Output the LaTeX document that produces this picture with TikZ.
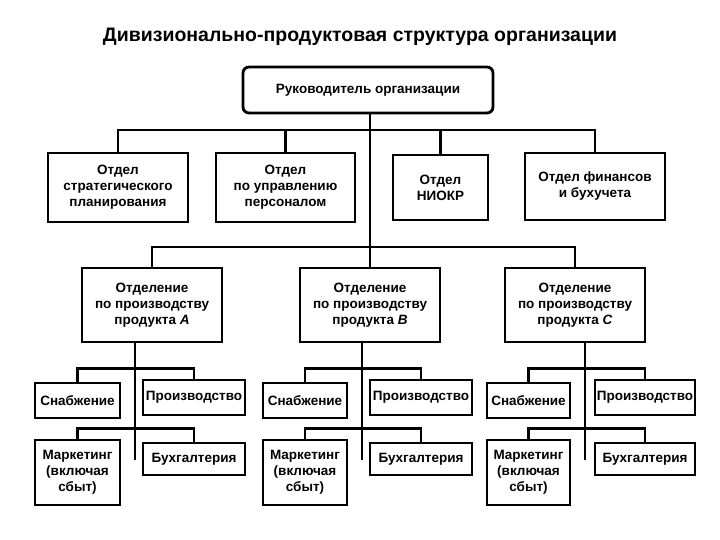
\documentclass[tikz,border=0pt]{standalone}
\usepackage{fontspec}
\setmainfont{Liberation Sans}
\begin{document}
\begin{tikzpicture}[x=1pt,y=-1pt,line width=2.8pt,
 bx/.style={draw,fill=white,inner sep=0pt,align=center,font=\fontsize{13.5}{16}\selectfont\bfseries}]
\useasboundingbox (0,0) rectangle (720,540);
\node[font=\fontsize{19.5}{22}\selectfont\bfseries] (t) at (360,37) {Дивизионально-продуктовая структура организации};
\newcommand\B[5]{\node[bx,minimum width=#3-#1,minimum height=#4-#2] (#5) at ({(#1+#3)/2},{(#2+#4)/2})}
\B{243}{67}{493}{113}{top}[rounded corners=6pt]{Руководитель организации};
\B{48}{153}{188}{222}{d1}{Отдел\\стратегического\\планирования};
\B{216}{153}{355}{222}{d2}{Отдел\\по управлению\\персоналом};
\B{393}{155}{488}{220}{d3}{Отдел\\НИОКР};
\B{525}{153}{665}{220}{d4}{Отдел финансов\\и бухучета};
\B{82}{268}{222}{342}{a}{Отделение\\по производству\\продукта \emph{A}};
\B{300}{268}{440}{342}{b}{Отделение\\по производству\\продукта \emph{B}};
\B{505}{268}{645}{342}{c}{Отделение\\по производству\\продукта \emph{C}};
\foreach \n/\xa/\xb/\xc/\xd in {a/35/120/143/245, b/263/347/370/472, c/487/570/595/695}{
 \B{\xa}{383}{\xb}{418}{\n s}{Снабжение};
 \B{\xc}{380}{\xd}{415}{\n p}{Производство};
 \B{\xa}{440}{\xb}{505}{\n m}{Маркетинг\\(включая\\сбыт)};
 \B{\xc}{443}{\xd}{475}{\n u}{Бухгалтерия};
}
\coordinate (j1) at (370,130);
\coordinate (j2) at (370,247);
\draw (top.south -| j1) -- (b.north -| j1);
\draw (d1.north) |- (j1) -| (d4.north);
\draw (d2.north) -- (d2.north |- j1);
\draw (d3.north) -- (d3.north |- j1);
\draw (a.north) |- (j2) -| (c.north);
\foreach \n/\sx in {a/135,b/362,c/585}{
 \draw (\n.south -| \sx,0) -- (\sx,460);
 \draw (\n s.north) -- ++(0,-13) -| (\n p.north);
 \draw (\n m.north) -- ++(0,-10) -| (\n u.north);
}
\end{tikzpicture}
\end{document}
